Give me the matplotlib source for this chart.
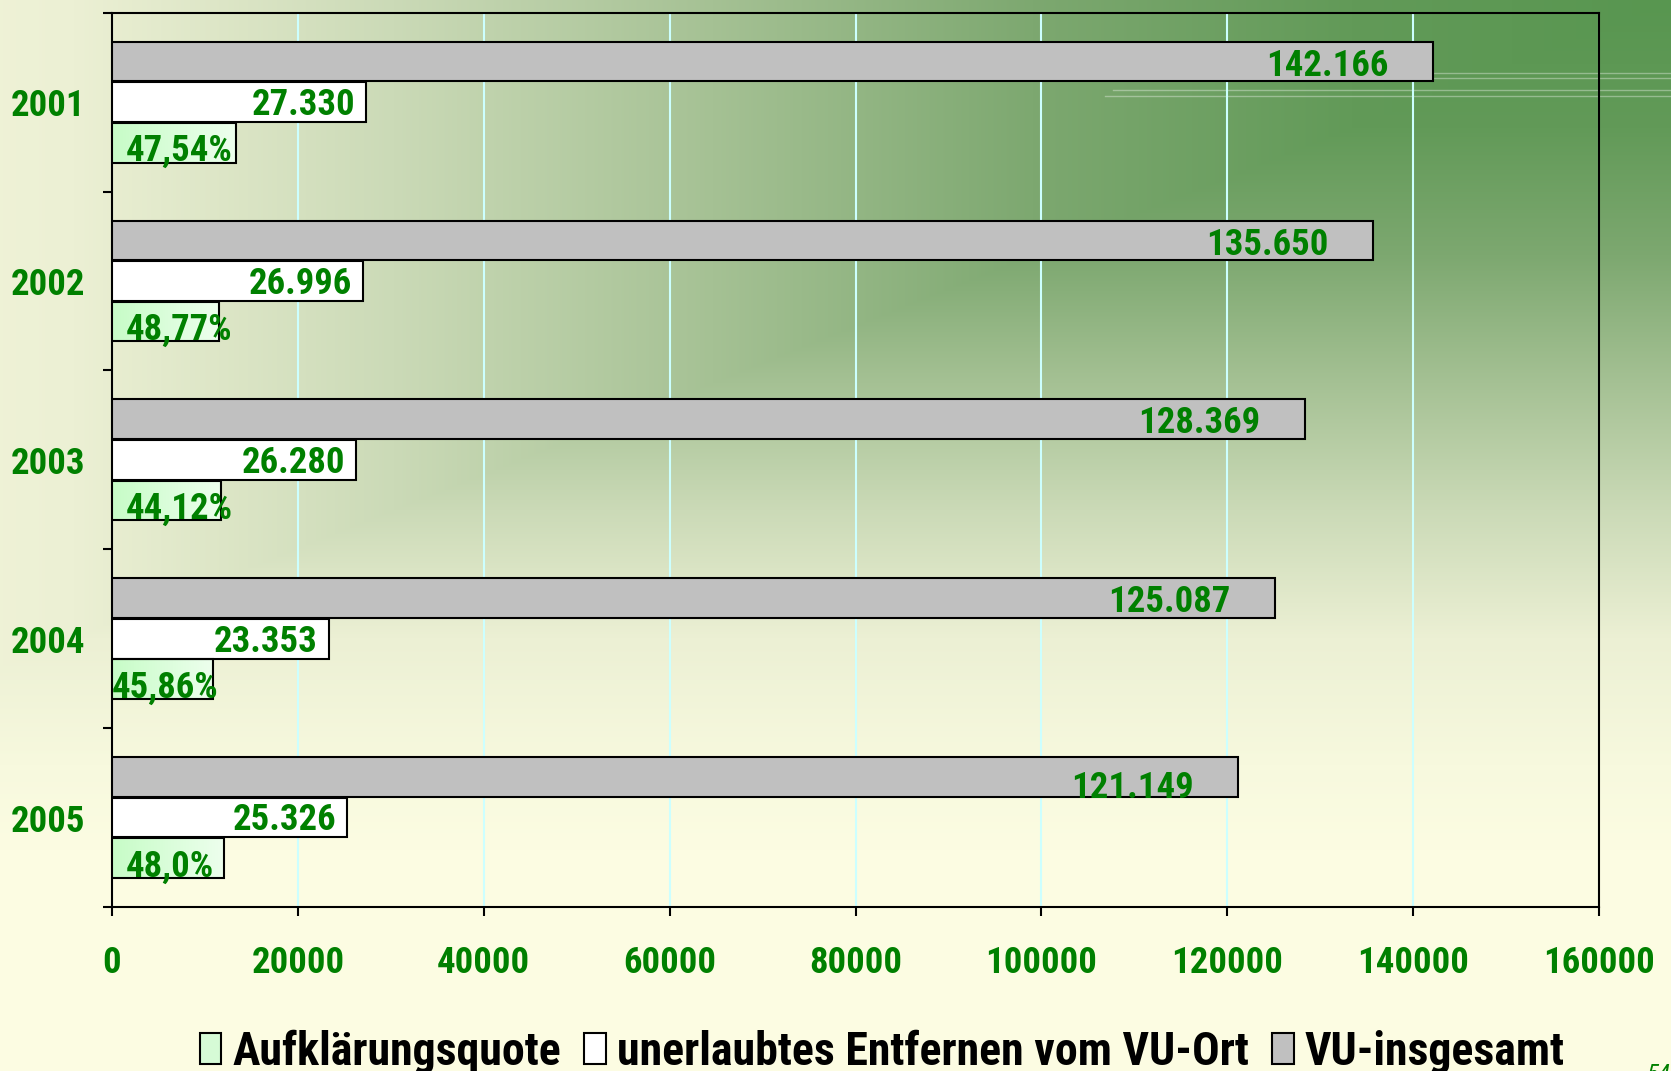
import numpy as np
import matplotlib.pyplot as plt
from matplotlib.patches import Patch
from matplotlib.lines import Line2D

# accident figures per year
years = ["2001", "2002", "2003", "2004", "2005"]
vu_total = [142166, 135650, 128369, 125087, 121149]
hit_and_run = [27330, 26996, 26280, 23353, 25326]
cleared = [13360, 11480, 11680, 10830, 12070]
clear_rate = ["47,54%", "48,77%", "44,12%", "45,86%", "48,0%"]

# label nudges (points)
total_dy = [-3, -3, -3, -3, -8]
rate_dx = [10, 10, 10, 0, 10]

plt.rcParams['font.family'] = ['Roboto Condensed', 'Liberation Sans Narrow', 'Liberation Sans', 'DejaVu Sans']
plt.rcParams['font.weight'] = 'bold'
GREEN = '#008000'
FS = 26.5

W, H = 1671, 1071
fig = plt.figure(figsize=(W / 100, H / 100), dpi=100)

# slide background: green in the top right corner, fading to cream
bg = fig.add_axes([0, 0, 1, 1], zorder=-10)
xx, yy = np.meshgrid(np.arange(W), np.arange(H))
s = np.clip(np.maximum((W - xx) / 2130, yy / 850), 0, 1)
stops = [0, .15, .3, .45, .6, .75, .9, 1]
cols = np.array([(88, 150, 80), (98, 154, 88), (125, 168, 112), (165, 193, 148),
                 (203, 218, 183), (236, 240, 212), (247, 249, 222), (252, 252, 226)]) / 255
img = np.dstack([np.interp(s, stops, cols[:, k]) for k in range(3)])
bg.imshow(img, aspect='auto', extent=[0, 1, 0, 1])
for x0, yl in [(1432, 73), (1432, 78), (1113, 90), (1105, 96)]:
    bg.add_line(Line2D([x0 / W, 1], [1 - yl / H] * 2, color='white', alpha=0.35, lw=1))
bg.set_xlim(0, 1)
bg.set_ylim(0, 1)
bg.axis('off')

ax = fig.add_axes([0.067, 0.1531, 0.890, 0.835])
ax.patch.set_alpha(0)

y = np.arange(len(years))
h = 0.222
off = 0.227
edge = dict(edgecolor='black', linewidth=1.5, zorder=3)
ax.barh(y - off, vu_total, h, color='#C0C0C0', **edge)
ax.barh(y, hit_and_run, h, color='white', **edge)
green_bars = ax.barh(y + off, cleared, h, color='none', **edge)

# light green gradient inside the clearance bars
grad = np.linspace(0, 1, 100).reshape(1, -1)
for b in green_bars:
    x0, y0, bw, bh = b.get_x(), b.get_y(), b.get_width(), b.get_height()
    im = ax.imshow(np.dstack([np.interp(grad, [0, 1], [0.78, 0.93]),
                              np.interp(grad, [0, 1], [0.99, 1.0]),
                              np.interp(grad, [0, 1], [0.78, 0.93])]),
                   extent=[x0, x0 + bw, y0 + bh, y0], aspect='auto', zorder=2.9)
    im.set_clip_path(b)

ax.set_xlim(0, 160000)
ax.set_ylim(4.5, -0.5)
ax.set_xticks(range(0, 160001, 20000))
ax.set_yticks(y, years)
ax.set_yticks(np.arange(-0.5, 5, 1), minor=True)
ax.tick_params(axis='x', length=6.5, width=1.5, pad=21, labelsize=FS, labelcolor=GREEN)
ax.tick_params(axis='y', which='major', length=0, pad=19, labelsize=FS, labelcolor=GREEN)
ax.tick_params(axis='y', which='minor', length=6.5, width=1.5)
for sp in ax.spines.values():
    sp.set_linewidth(1.5)
ax.set_axisbelow(True)
ax.grid(axis='x', color='#CCFFFF', lw=1.5, zorder=0)

for i in range(len(years)):
    ax.annotate(f"{vu_total[i]:,}".replace(',', '.'), (vu_total[i], y[i] - off),
                xytext=(-32, total_dy[i]), textcoords='offset points', ha='right', va='center',
                color=GREEN, fontsize=FS, zorder=5)
    ax.annotate(f"{hit_and_run[i]:,}".replace(',', '.'), (hit_and_run[i], y[i]),
                xytext=(-8, -2), textcoords='offset points', ha='right', va='center',
                color=GREEN, fontsize=FS, zorder=5)
    ax.annotate(clear_rate[i], (0, y[i] + off),
                xytext=(rate_dx[i], -6), textcoords='offset points', ha='left', va='center',
                color=GREEN, fontsize=FS, zorder=5)

handles = [Patch(facecolor='#D6FBD6', edgecolor='black', lw=1.5),
           Patch(facecolor='white', edgecolor='black', lw=1.5),
           Patch(facecolor='#C0C0C0', edgecolor='black', lw=1.5)]
labels = ["Aufklärungsquote", "unerlaubtes Entfernen vom VU-Ort", "VU-insgesamt"]
fig.legend(handles, labels, loc='center', bbox_to_anchor=(0.528, 0.0180), ncol=3,
           frameon=False, fontsize=33, handlelength=0.47, handleheight=0.65,
           handletextpad=0.25, columnspacing=0.5)

fig.text(1647 / W, 1 - 1063 / H, "54", color=GREEN, fontsize=18, style='italic',
         fontweight='normal', va='top', ha='left')

fig.savefig('out.png', dpi=100)
